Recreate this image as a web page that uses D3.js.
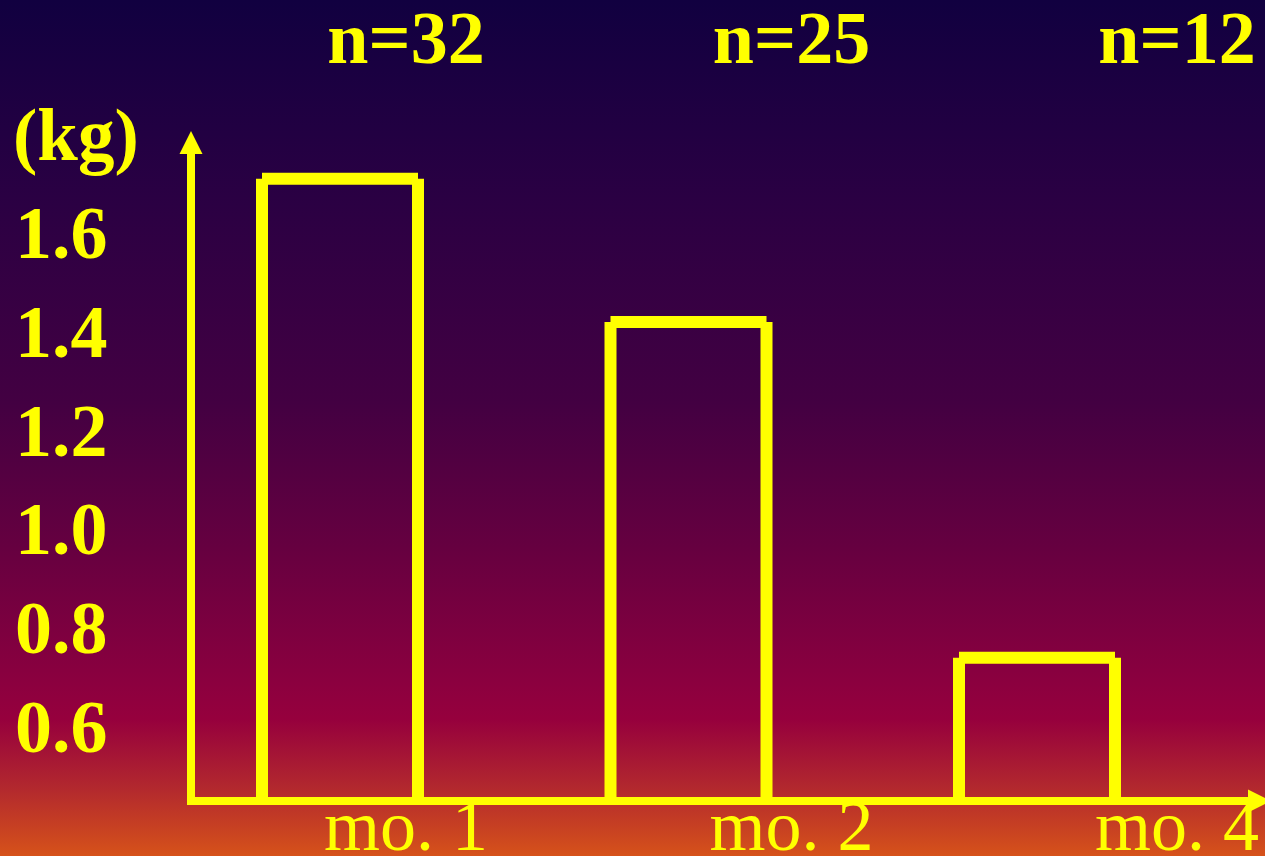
<!DOCTYPE html>
<html>
<head>
<meta charset="utf-8">
<script src="https://cdn.jsdelivr.net/npm/d3@7/dist/d3.min.js"></script>
<style>
  html, body { margin: 0; padding: 0; overflow: hidden; background: #12003f; }
  svg { display: block; }
</style>
</head>
<body>
<svg id="chart" width="1265" height="856"></svg>
<script>
// Weight by month of follow-up
const categories = ["mo. 1", "mo. 2", "mo. 4"];
const weights = [1.71, 1.42, 0.74];
const sampleSizes = ["n=32", "n=25", "n=12"];
const tickValues = [0.6, 0.8, 1.0, 1.2, 1.4, 1.6];
const tickLabels = ["0.6", "0.8", "1.0", "1.2", "1.4", "1.6"];
const unitLabel = "(kg)";

const W = 1265, H = 856;
const YELLOW = "#ffff00";
const svg = d3.select("#chart");

// Background gradient: deep indigo through magenta into orange
const defs = svg.append("defs");
const grad = defs.append("linearGradient")
  .attr("id", "bg").attr("x1", 0).attr("y1", 0).attr("x2", 0).attr("y2", 1);
[
  [0.00, "#110040"],
  [0.23, "#2a0043"],
  [0.47, "#430042"],
  [0.64, "#660040"],
  [0.80, "#8c003f"],
  [0.84, "#96003d"],
  [0.92, "#b2282e"],
  [1.00, "#d6521a"]
].forEach(([o, c]) => grad.append("stop").attr("offset", o).attr("stop-color", c));
svg.append("rect").attr("width", W).attr("height", H).attr("fill", "url(#bg)");

// Scales
const baseValue = 0.45;
const y = d3.scaleLinear().domain([0.6, 1.6]).range([727, 233]);
const xBar = d3.scalePoint().domain(categories).range([340, 1037]);
const xLabel = d3.scalePoint().domain(categories).range([406, 1177]);
const barW = 156;
const yBase = y(baseValue);

const font = "'Liberation Serif', 'Times New Roman', Times, serif";

// Bars: open-bottom outlines drawn as three butt-capped strokes
const bars = svg.append("g").attr("stroke", YELLOW).attr("stroke-width", 12)
  .attr("stroke-linecap", "butt").attr("fill", "none");
categories.forEach((c, i) => {
  const x0 = xBar(c) - barW / 2, x1 = xBar(c) + barW / 2, yt = y(weights[i]);
  const g = bars.append("g");
  g.append("line").attr("x1", x0).attr("x2", x0).attr("y1", yBase).attr("y2", yt);
  g.append("line").attr("x1", x1).attr("x2", x1).attr("y1", yBase).attr("y2", yt);
  g.append("line").attr("x1", x0).attr("x2", x1).attr("y1", yt).attr("y2", yt);
});

// Axes with arrowheads
const axX = 191, axTop = 154, arrow = 23;
const axes = svg.append("g");
axes.append("line").attr("x1", axX).attr("x2", axX).attr("y1", yBase + 4).attr("y2", axTop)
  .attr("stroke", YELLOW).attr("stroke-width", 8);
axes.append("path")
  .attr("d", `M${axX - arrow / 2},${axTop} L${axX},${axTop - arrow} L${axX + arrow / 2},${axTop} Z`)
  .attr("fill", YELLOW);
const axRight = 1248;
axes.append("line").attr("x1", axX - 4).attr("x2", axRight).attr("y1", yBase).attr("y2", yBase)
  .attr("stroke", YELLOW).attr("stroke-width", 8);
axes.append("path")
  .attr("d", `M${axRight},${yBase - arrow / 2} L${axRight + arrow},${yBase} L${axRight},${yBase + arrow / 2} Z`)
  .attr("fill", YELLOW);

// Y tick labels
svg.append("g").selectAll("text").data(tickValues).join("text")
  .attr("x", 15).attr("y", d => y(d) + 25)
  .attr("font-family", font).attr("font-weight", "bold").attr("font-size", 74)
  .attr("fill", YELLOW)
  .text((d, i) => tickLabels[i]);

// Unit label
svg.append("text").attr("x", 13).attr("y", 160)
  .attr("font-family", font).attr("font-weight", "bold").attr("font-size", 73)
  .attr("fill", YELLOW).text(unitLabel);

// Sample sizes above each group
svg.append("g").selectAll("text").data(categories).join("text")
  .attr("x", d => xLabel(d)).attr("y", 63).attr("text-anchor", "middle")
  .attr("font-family", font).attr("font-weight", "bold").attr("font-size", 74)
  .attr("fill", YELLOW)
  .text((d, i) => sampleSizes[i]);

// Category labels along the bottom
svg.append("g").selectAll("text").data(categories).join("text")
  .attr("x", d => xLabel(d)).attr("y", 850).attr("text-anchor", "middle")
  .attr("font-family", font).attr("font-size", 72)
  .attr("fill", YELLOW)
  .text(d => d);
</script>
</body>
</html>
